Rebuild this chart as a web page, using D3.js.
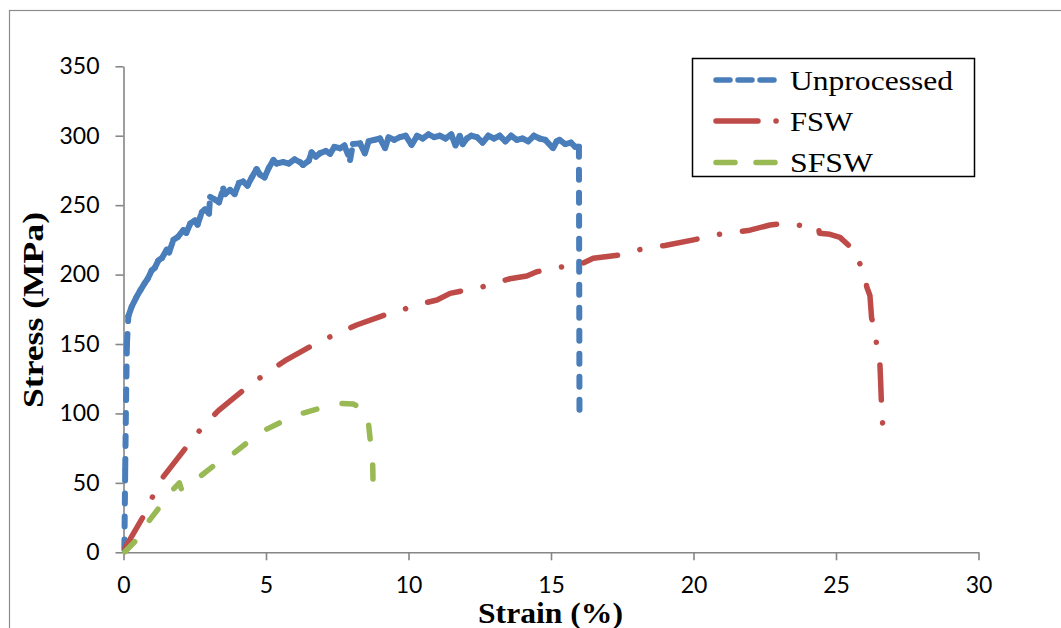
<!DOCTYPE html>
<html>
<head>
<meta charset="utf-8">
<script src="https://cdn.jsdelivr.net/npm/d3@7"></script>
<style>
  html, body { margin: 0; padding: 0; background: #fff; }
  svg { display: block; }
</style>
</head>
<body>
<svg id="chart" width="1061" height="628"></svg>
<script>
// ---------- data ----------
const seriesNames = ["Unprocessed", "FSW", "SFSW"];
const seriesColors = ["#4A7EBB", "#BE4B48", "#98B954"];

const xTicks = [0, 5, 10, 15, 20, 25, 30];
const yTicks = [0, 50, 100, 150, 200, 250, 300, 350];

const unprocessedStrain = [0.03,0.06,0.09,0.12,0.17,0.29,0.46,0.6,0.75,0.85,0.99,1.1,1.22,1.35,1.52,1.6,1.75,1.9,2.1,2.2,2.35,2.51,2.6,2.75,2.86,3.0,3.04,3.21,3.35,3.5,3.56,3.74,3.9,4.05,4.2,4.35,4.5,4.67,4.79,4.95,5.1,5.26,5.37,5.6,5.8,6.0,6.19,6.3,6.5,6.6,6.75,6.9,7.1,7.25,7.4,7.6,7.75,7.95,8.05,8.3,8.47,8.6,8.8,9.0,9.18,9.3,9.5,9.7,9.9,10.11,10.3,10.5,10.7,10.9,11.1,11.3,11.5,11.65,11.8,11.9,12.05,12.2,12.4,12.6,12.8,13.0,13.2,13.4,13.6,13.8,14.0,14.2,14.4,14.6,14.8,15.07,15.2,15.3,15.5,15.7,15.85,15.98,16.0];
const unprocessedStress = [2,60,110,150,170,177,184,189,194,197,203,205,210,212,218,216,225,227,232,230,237,239,236,245,247,244,256,254,252,262,258,261,258,266,267,264,270,276,272,270,277,282.5,280,281,280,283,281,279,282,288,285,287.5,289,287,292,291,293,282.5,294,294.5,287.3,296,297,298,291,299,297,299,300,293.3,300,298,301,299,300,298,301,293,300,294,298,300,299,295,300,298,300,296,300,297,298,296,300,298,297,291,296,297,294,295,292,292,95];

const fswStrain = [0.05,0.70,1.02,1.40,2.31,2.80,3.33,4.40,5.02,5.67,6.89,7.56,8.18,9.18,9.66,10.05,11.0,11.46,12.57,12.98,13.56,14.15,14.50,15.43,15.9,16.48,17.36,17.68,18.12,19.0,20.0,20.9,21.98,22.68,23.27,23.62,24.38,24.42,24.79,25.14,25.5,25.55,25.78,25.99,26.08,26.19,26.25,26.37,26.43,26.54,26.57,26.6,26.66];
const fswStress = [3,26,40,54.5,78.5,91,102,120,129,138,152,158,163.7,171,173,177,181.7,186.5,191,193.7,197,199,202,205.7,206,211.7,214,215.7,218,221,225,229,232,235.7,237,235.7,234.5,229.7,229,226.8,220,214,210,202,191,185,168.5,161,148,136,121,103.7,85.7];

const sfswStrain = [0.05,0.46,0.87,1.26,1.73,1.96,2.04,2.68,3.21,3.85,4.38,4.96,5.55,6.19,6.89,7.6,8.06,8.47,8.59,8.67,8.74,8.76];
const sfswStress = [0.4,9,22,32.4,45,50,45,54.5,63,71,79.6,88,94,99.6,103.7,107.3,106.8,102.5,94,78.5,66.5,47];

// ---------- layout ----------
const svg = d3.select("#chart");
const x = d3.scaleLinear().domain([0, 30]).range([123.5, 978.5]);
const y = d3.scaleLinear().domain([0, 350]).range([552.3, 66.3]);
const axisColor = "#868686";

// outer frame
svg.append("rect").attr("x", 9.5).attr("y", 10.5).attr("width", 1200).attr("height", 800)
  .attr("fill", "#fff").attr("stroke", "#8c8c8c").attr("stroke-width", 1.2);

// axes
const xAxis = svg.append("g").attr("transform", `translate(0,${y(0)})`)
  .call(d3.axisBottom(x).tickValues(xTicks).tickSize(8).tickSizeOuter(0).tickPadding(16));
const yAxis = svg.append("g").attr("transform", `translate(${x(0)},0)`)
  .call(d3.axisLeft(y).tickValues(yTicks).tickSize(8).tickSizeOuter(0).tickPadding(16));
[xAxis, yAxis].forEach(g => {
  g.select(".domain").attr("stroke", axisColor).attr("stroke-width", 1.6);
  g.selectAll(".tick line").attr("stroke", axisColor).attr("stroke-width", 1.6);
  g.selectAll(".tick text").attr("fill", "#000")
    .style("font-family", "Lato, 'Open Sans', sans-serif").style("font-size", "23px");
});

// series
const lineGen = d3.line().x(d => x(d[0])).y(d => y(d[1]));
const zip = (a, b) => a.map((v, i) => [v, b[i]]);
const unpData = zip(unprocessedStrain, unprocessedStress);
const fswData = zip(fswStrain, fswStress);
const sfswData = zip(sfswStrain, sfswStress);

// Unprocessed: dash pattern restarts on each segment (dense noisy data looks solid)
svg.append("g").selectAll("path").data(d3.pairs(unpData)).join("path")
  .attr("d", d => lineGen(d))
  .attr("fill", "none").attr("stroke", seriesColors[0]).attr("stroke-width", 6)
  .attr("stroke-linecap", "round").attr("stroke-dasharray", "10,13");

svg.append("path").datum(fswData).attr("d", lineGen)
  .attr("fill", "none").attr("stroke", seriesColors[1]).attr("stroke-width", 5.5)
  .attr("stroke-linecap", "round").attr("stroke-linejoin", "round")
  .attr("stroke-dasharray", "35,23,0.1,23");

svg.append("path").datum(sfswData).attr("d", lineGen)
  .attr("fill", "none").attr("stroke", seriesColors[2]).attr("stroke-width", 5.5)
  .attr("stroke-linecap", "round").attr("stroke-linejoin", "round")
  .attr("stroke-dasharray", "14,26");

// axis titles
svg.append("text").attr("x", 550.5).attr("y", 622.5).attr("text-anchor", "middle")
  .attr("textLength", 145).attr("lengthAdjust", "spacingAndGlyphs")
  .style("font-family", "'Liberation Serif', 'Times New Roman', serif")
  .style("font-weight", "bold").style("font-size", "29px").text("Strain (%)");
svg.append("text").attr("transform", "translate(43,310) rotate(-90)").attr("text-anchor", "middle")
  .attr("textLength", 196).attr("lengthAdjust", "spacingAndGlyphs")
  .style("font-family", "'Liberation Serif', 'Times New Roman', serif")
  .style("font-weight", "bold").style("font-size", "30px").text("Stress (MPa)");

// legend
const legend = svg.append("g");
legend.append("rect").attr("x", 692.5).attr("y", 58.5).attr("width", 282).attr("height", 118)
  .attr("fill", "#fff").attr("stroke", "#000").attr("stroke-width", 1.5);
const legendY = [80, 121, 162.5];
const legendDash = ["14,8", "42,18,0.1,40", "19,21"];
const legendTextLen = [163, 63, 83];
seriesNames.forEach((name, i) => {
  legend.append("line").attr("x1", 716).attr("x2", 777).attr("y1", legendY[i]).attr("y2", legendY[i])
    .attr("stroke", seriesColors[i]).attr("stroke-width", 5.5).attr("stroke-linecap", "round")
    .attr("stroke-dasharray", legendDash[i]);
  legend.append("text").attr("x", 790).attr("y", legendY[i] + 9.5)
    .attr("textLength", legendTextLen[i]).attr("lengthAdjust", "spacingAndGlyphs")
    .style("font-family", "'Liberation Serif', 'Times New Roman', serif")
    .style("font-size", "28px").text(name);
});
</script>
</body>
</html>
